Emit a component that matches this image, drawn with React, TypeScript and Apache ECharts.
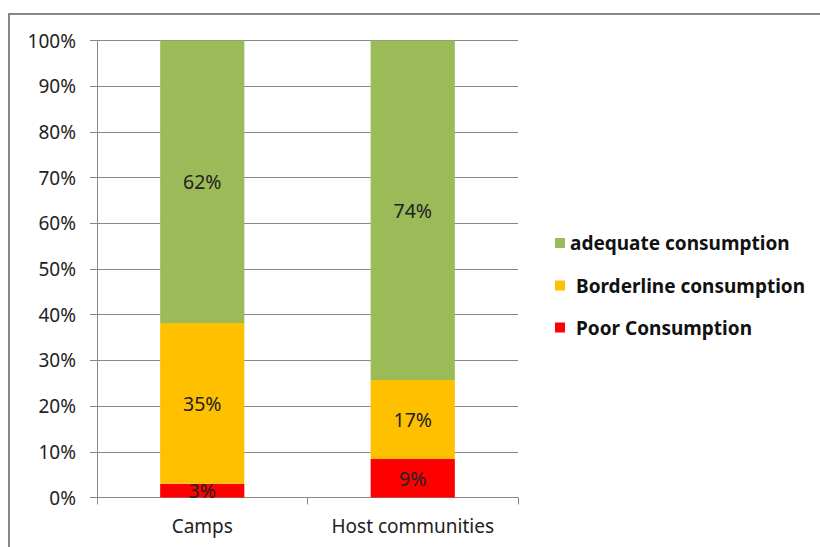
import React, { useEffect, useRef } from "react";
import * as echarts from "echarts";

const categories = ["Camps", "Host communities"];
const poorValues = [3.0, 8.4];
const borderlineValues = [35.2, 17.3];
const adequateValues = [61.8, 74.3];
const poorLabels = ["3%", "9%"];
const borderlineLabels = ["35%", "17%"];
const adequateLabels = ["62%", "74%"];
const yTicks = [0, 100, 10];

const FONT = "'Noto Sans', 'Open Sans', sans-serif";
const GRID_COLOR = "#888888";
const TEXT_COLOR = "#222222";

export default function App() {
  const ref = useRef<HTMLDivElement>(null);
  useEffect(() => {
    if (!ref.current) return;
    const chart = echarts.init(ref.current, undefined, { renderer: "svg" });
    const mkSeries = (name: string, data: number[], labels: string[], color: string) => ({
      name,
      type: "bar",
      stack: "total",
      barWidth: "40%",
      data,
      itemStyle: { color },
      label: {
        show: true,
        position: "inside",
        color: TEXT_COLOR,
        fontFamily: FONT,
        fontSize: 19.5,
        formatter: (p: any) => labels[p.dataIndex],
      },
    });
    const mkLegend = (name: string, top: number, pad: number) => ({
      data: [name],
      left: 555,
      top,
      padding: 0,
      itemWidth: 10,
      itemHeight: 10,
      icon: "rect",
      textStyle: {
        fontFamily: FONT,
        fontWeight: "bold",
        fontSize: 19,
        color: "#111111",
        lineHeight: 22,
        padding: [0, 0, 0, pad],
      },
    });
    chart.setOption({
      animation: false,
      backgroundColor: "#ffffff",
      grid: { left: 97, right: 302, top: 40.5, bottom: 49.5 },
      graphic: [
        {
          type: "rect",
          shape: { x: 9, y: 14, width: 830, height: 560 },
          style: { fill: "none", stroke: "#878787", lineWidth: 2 },
          silent: true,
        },
      ],
      legend: [
        mkLegend("adequate consumption", 232, 0),
        mkLegend("Borderline consumption", 274.5, 6),
        mkLegend("Poor Consumption", 316.5, 6),
      ],
      xAxis: {
        type: "category",
        data: categories,
        axisLine: { show: true, lineStyle: { color: GRID_COLOR, width: 1 } },
        axisTick: { show: true, length: 7, alignWithLabel: false, interval: 0, lineStyle: { color: GRID_COLOR } },
        axisLabel: { color: TEXT_COLOR, fontFamily: FONT, fontSize: 19, margin: 19, interval: 0, hideOverlap: false },
      },
      yAxis: {
        type: "value",
        min: yTicks[0],
        max: yTicks[1],
        interval: yTicks[2],
        axisLine: { show: true, lineStyle: { color: GRID_COLOR, width: 1 } },
        axisTick: { show: true, length: 7, lineStyle: { color: GRID_COLOR } },
        splitLine: { show: true, lineStyle: { color: GRID_COLOR, width: 1 } },
        axisLabel: {
          color: TEXT_COLOR,
          fontFamily: FONT,
          fontSize: 19,
          margin: 21,
          formatter: "{value}%",
        },
      },
      series: [
        mkSeries("Poor Consumption", poorValues, poorLabels, "#FF0000"),
        mkSeries("Borderline consumption", borderlineValues, borderlineLabels, "#FFC000"),
        mkSeries("adequate consumption", adequateValues, adequateLabels, "#9BBB59"),
      ],
    });
    return () => chart.dispose();
  }, []);
  return (
    <div
      ref={ref}
      style={{ position: "fixed", left: 0, top: 0, width: 820, height: 547, background: "#fff" }}
    />
  );
}
